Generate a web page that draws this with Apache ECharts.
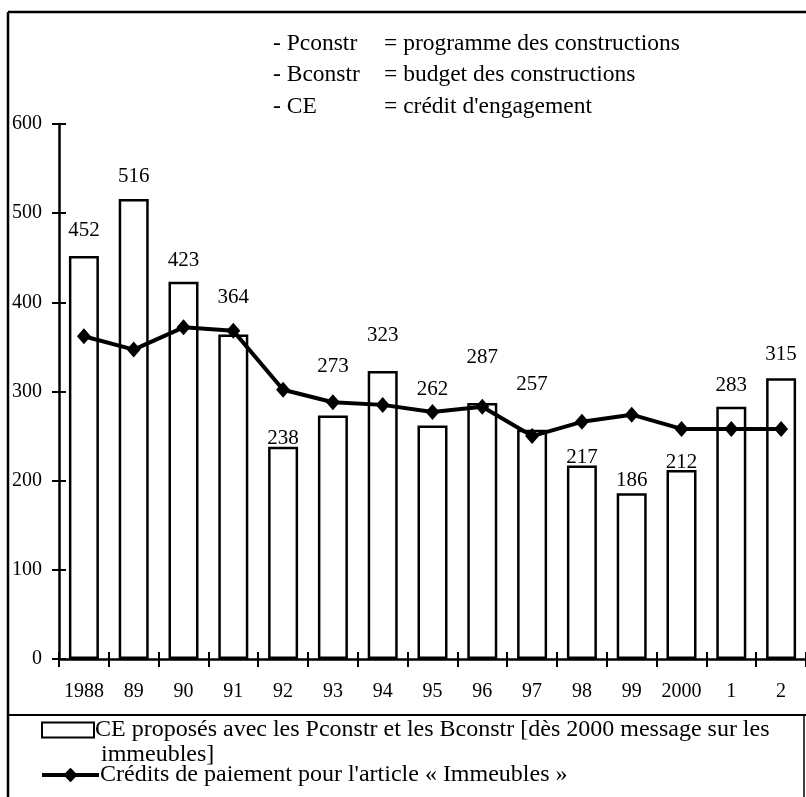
<!DOCTYPE html>
<html>
<head>
<meta charset="utf-8">
<script src="https://cdn.jsdelivr.net/npm/echarts@6/dist/echarts.min.js"></script>
<style>
    html, body { margin: 0; padding: 0; background: #fff; }
    #chart { width: 806px; height: 797px; }
</style>
</head>
<body>
<div id="chart"></div>
<script>
    // years on the x axis
    var years = ['1988', '89', '90', '91', '92', '93', '94', '95', '96', '97', '98', '99', '2000', '1', '2'];
    // CE proposés (bars)
    var ceValues = [452, 516, 423, 364, 238, 273, 323, 262, 287, 257, 217, 186, 212, 283, 315];
    // Crédits de paiement (line)
    var cpValues = [362, 347, 372, 368, 302, 288, 285, 277, 283, 250, 266, 274, 258, 258, 258];
    // how far each value label sits above its bar (the original moved them by hand)
    var labelLift = [15, 12, 11, 26, -2, 39, 25, 25, 35, 35, -2, 2, -3, 11, 13];
    var yTicks = [0, 600, 100];

    var serif = '"Liberation Serif", "Times New Roman", serif';
    var ink = '#000';
    var noteFont = '23.5px ' + serif;
    var legendSize = 24;

    var chart = echarts.init(document.getElementById('chart'));

    var barData = ceValues.map(function (v, i) {
        return { value: v, label: { distance: labelLift[i] } };
    });

    chart.setOption({
        animation: false,
        backgroundColor: '#fff',
        textStyle: { fontFamily: serif, color: ink },
        grid: { left: 59, top: 124, width: 750, height: 535 },
        xAxis: [
            {
                type: 'category',
                data: years,
                axisLine: { lineStyle: { color: ink, width: 2.5 } },
                axisTick: { show: true, length: 8, lineStyle: { color: ink, width: 2 } },
                axisLabel: { color: ink, fontFamily: serif, fontSize: 20, margin: 23, interval: 0 }
            },
            {
                type: 'category',
                data: years,
                position: 'bottom',
                axisLine: { show: false },
                axisTick: { show: true, inside: true, length: 7, lineStyle: { color: ink, width: 2 } },
                axisLabel: { show: false }
            }
        ],
        yAxis: [
            {
                type: 'value',
                min: yTicks[0], max: yTicks[1], interval: yTicks[2],
                splitLine: { show: false },
                axisLine: { show: true, lineStyle: { color: ink, width: 2.5 } },
                axisTick: { show: true, length: 7, lineStyle: { color: ink, width: 2 } },
                axisLabel: { color: ink, fontFamily: serif, fontSize: 20, margin: 17 }
            },
            {
                type: 'value',
                min: yTicks[0], max: yTicks[1], interval: yTicks[2],
                position: 'left',
                splitLine: { show: false },
                axisLine: { show: false },
                axisTick: { show: true, inside: true, length: 7, lineStyle: { color: ink, width: 2 } },
                axisLabel: { show: false }
            }
        ],
        legend: [
            {
                left: 36, top: 713,
                itemWidth: 52, itemHeight: 15,
                data: [{ name: 'CE proposés avec les Pconstr et les Bconstr [dès 2000 message sur les', icon: 'rect' }],
                textStyle: { fontFamily: serif, fontSize: legendSize, color: ink, padding: [0, 0, 0, -4] },
                selectedMode: false
            },
            {
                left: 35, top: 758,
                itemWidth: 57, itemHeight: 18,
                data: [{ name: "Crédits de paiement pour l'article « Immeubles »", lineStyle: { width: 4, color: ink } }],
                textStyle: { fontFamily: serif, fontSize: legendSize, color: ink, padding: [0, 0, 0, -4] },
                selectedMode: false
            }
        ],
        graphic: [
            // outer frame and the rule above the legend
            { type: 'line', shape: { x1: 8, y1: 12, x2: 806, y2: 12 }, style: { stroke: ink, lineWidth: 2.5 } },
            { type: 'line', shape: { x1: 8, y1: 12, x2: 8, y2: 797 }, style: { stroke: ink, lineWidth: 2.5 } },
            { type: 'line', shape: { x1: 8, y1: 715, x2: 806, y2: 715 }, style: { stroke: ink, lineWidth: 2 } },
            { type: 'line', shape: { x1: 804, y1: 715, x2: 804, y2: 797 }, style: { stroke: ink, lineWidth: 1.5 } },
            // abbreviations
            { type: 'text', left: 273, top: 32, style: { text: '- Pconstr', font: noteFont, fill: ink } },
            { type: 'text', left: 384, top: 32, style: { text: '= programme des constructions', font: noteFont, fill: ink } },
            { type: 'text', left: 273, top: 63, style: { text: '- Bconstr', font: noteFont, fill: ink } },
            { type: 'text', left: 384, top: 63, style: { text: '= budget des constructions', font: noteFont, fill: ink } },
            { type: 'text', left: 273, top: 95, style: { text: '- CE', font: noteFont, fill: ink } },
            { type: 'text', left: 384, top: 95, style: { text: "= crédit d'engagement", font: noteFont, fill: ink } },
            // second line of the bar legend entry
            { type: 'text', left: 101, top: 743, style: { text: 'immeubles]', font: legendSize + 'px ' + serif, fill: ink } }
        ],
        series: [
            {
                name: 'CE proposés avec les Pconstr et les Bconstr [dès 2000 message sur les',
                type: 'bar',
                data: barData,
                barWidth: 30,
                itemStyle: { color: '#fff', borderColor: ink, borderWidth: 2.5 },
                label: {
                    show: true,
                    position: 'top',
                    color: ink,
                    fontFamily: serif,
                    fontSize: 21
                },
                z: 2
            },
            {
                name: "Crédits de paiement pour l'article « Immeubles »",
                type: 'line',
                data: cpValues,
                symbol: 'diamond',
                symbolSize: [14, 16],
                lineStyle: { color: ink, width: 4 },
                itemStyle: { color: ink },
                z: 5
            }
        ]
    });
</script>
</body>
</html>
